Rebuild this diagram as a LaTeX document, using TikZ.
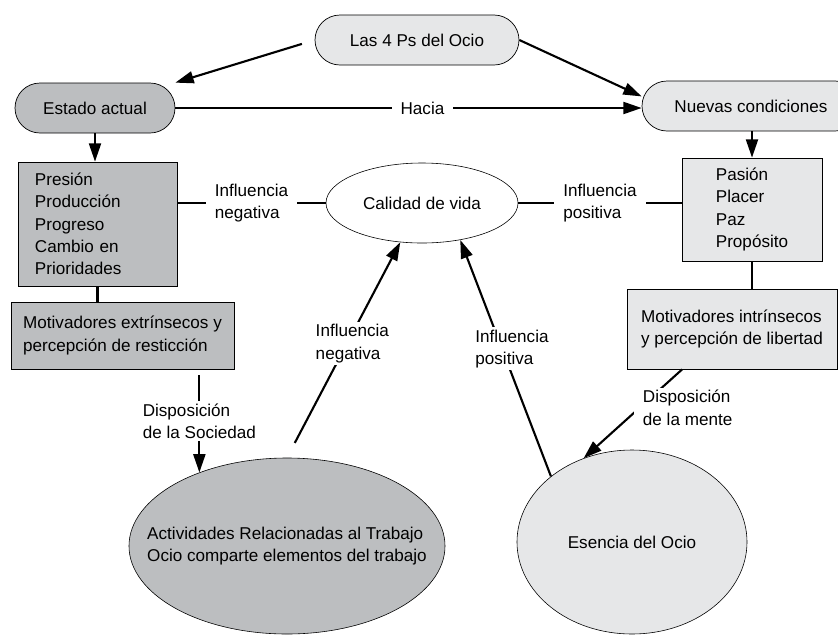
\documentclass[tikz,border=0pt]{standalone}
\usepackage{fontspec}
\setmainfont{Liberation Sans}
\usetikzlibrary{arrows.meta,shapes.geometric}
\definecolor{lightfill}{RGB}{230,231,232}
\definecolor{darkfill}{RGB}{188,190,192}
\begin{document}
\begin{tikzpicture}
[x=0.03cm,y=-0.03cm,font=\fontsize{14.6}{19}\selectfont,
  roundnode/.style={shape=rectangle,rounded corners=0.75cm,draw,line width=0.6pt,minimum height=1.5cm},%
  boxnode/.style={shape=rectangle,draw,line width=0.6pt,align=left},%
  ovalnode/.style={shape=ellipse,draw,line width=0.5pt,align=left},%
  linedecorate/.style={-,line width=1.8pt},%
  arrowdecorate/.style={-{Triangle[length=0.55cm,width=0.36cm]},line width=1.8pt},%
  labeldecorate/.style={fill=white,align=left,inner xsep=0.27cm,inner ysep=2pt}]
\useasboundingbox (0,0) rectangle (838,635);
%% nodes or vertices
\node (ps) at (417,40) [roundnode,fill=lightfill,minimum width=6.12cm] {Las 4 Ps del Ocio};
\node (estado) at (95,108) [roundnode,fill=darkfill,minimum width=4.8cm] {Estado actual};
\node (nuevas) at (751,106) [roundnode,fill=lightfill,minimum width=6.54cm] {Nuevas condiciones};
\node (presion) at (97.5,224) [boxnode,fill=darkfill,minimum width=4.77cm,minimum height=3.72cm,
  text width=3.75cm,inner xsep=0.51cm] {Presión\\Producción\\Progreso\\Cambio en\\Prioridades};
\node (pasion) at (752,209.5) [boxnode,fill=lightfill,minimum width=4.2cm,minimum height=3.09cm]
  {Pasión\\Placer\\Paz\\Propósito};
\node (motext) at (122.5,335.5) [boxnode,fill=darkfill,minimum width=6.69cm,minimum height=2.01cm]
  {Motivadores extrínsecos y\\percepción de resticción};
\node (motint) at (732,329) [boxnode,fill=lightfill,minimum width=6.3cm,minimum height=2.4cm]
  {Motivadores intrínsecos\\y percepción de libertad};
\node (calidad) at (422,203) [ovalnode,fill=white,minimum width=5.76cm,minimum height=2.4cm] {Calidad de vida};
\node (trabajo) at (287,546) [ovalnode,fill=darkfill,minimum width=9.48cm,minimum height=5.28cm]
  {\makebox[0pt]{\begin{tabular}{@{}l@{}}Actividades Relacionadas al Trabajo\\Ocio comparte elementos del trabajo\end{tabular}}};
\node (esencia) at (632,542) [ovalnode,fill=lightfill,minimum width=6.9cm,minimum height=5.52cm] {Esencia del Ocio};
%% edges or lines
\draw[arrowdecorate,shorten <=0.4cm] (ps.west) -- (estado.north east);
\draw[arrowdecorate] (ps.east) -- (nuevas.175);
\draw[arrowdecorate] (estado.east) -- (estado.east -| nuevas.west)
  node[labeldecorate,pos=0.53] {Hacia};
\draw[arrowdecorate] (estado.south) -- (estado.south |- presion.north);
\draw[arrowdecorate] (nuevas.south -| pasion.north) -- (pasion.north);
\foreach \upper/\lower in {presion/motext, pasion/motint} {
  \draw[linedecorate] (\upper.south) -- (\upper.south |- \lower.north);
}
\draw[linedecorate] (presion.east |- calidad.west) -- (calidad.west)
  node[labeldecorate,midway] {Influencia\\negativa};
\draw[linedecorate] (calidad.east) -- (calidad.east -| pasion.west)
  node[labeldecorate,midway] {Influencia\\positiva};
\draw[arrowdecorate,shorten <=0.18cm] (motext.south -| trabajo.140) -- (trabajo.140)
  node[labeldecorate,midway] {Disposición\\de la Sociedad};
\draw[arrowdecorate,shorten <=0.5cm] (trabajo.north) -- (calidad.241)
  node[labeldecorate,pos=0.53,xshift=0.16cm] {Influencia\\negativa};
\draw[arrowdecorate] (esencia.141) -- (calidad.316)
  node[labeldecorate,pos=0.54,xshift=0.3cm] {Influencia\\positiva};
\draw[arrowdecorate] (motint.219) -- (esencia.120)
  node[labeldecorate,midway,anchor=west,yshift=0.18cm] {Disposición\\de la mente};
\end{tikzpicture}
\end{document}
